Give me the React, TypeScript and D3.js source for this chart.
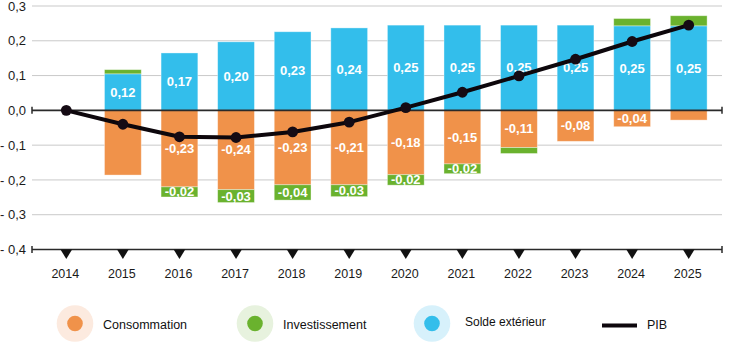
import React from "react";
import * as d3 from "d3";

const years = ["2014","2015","2016","2017","2018","2019","2020","2021","2022","2023","2024","2025"];
const solde = [0, 0.105, 0.165, 0.197, 0.226, 0.237, 0.245, 0.245, 0.245, 0.245, 0.243, 0.243];
const consommation = [0, -0.186, -0.22, -0.228, -0.214, -0.214, -0.185, -0.154, -0.107, -0.089, -0.047, -0.028];
const investPos = [0, 0.012, 0, 0, 0, 0, 0, 0, 0, 0, 0.021, 0.029];
const investNeg = [0, 0, -0.029, -0.037, -0.044, -0.034, -0.03, -0.028, -0.017, 0, 0, 0];
const pib = [0, -0.04, -0.076, -0.078, -0.062, -0.034, 0.008, 0.052, 0.099, 0.147, 0.198, 0.245];

const soldeLabels = [null, "0,12", "0,17", "0,20", "0,23", "0,24", "0,25", "0,25", "0,25", "0,25", "0,25", "0,25"];
const consoLabels = [null, null, "-0,23", "-0,24", "-0,23", "-0,21", "-0,18", "-0,15", "-0,11", "-0,08", "-0,04", null];
const investLabels = [null, null, "-0,02", "-0,03", "-0,04", "-0,03", "-0,02", "-0,02", null, null, null, null];

const yTicks = [0.3, 0.2, 0.1, 0, -0.1, -0.2, -0.3, -0.4];
const yTickLabels = ["0,3", "0,2", "0,1", "0,0", "- 0,1", "- 0,2", "- 0,3", "- 0,4"];

const legendItems = [
  { name: "Consommation", color: "#F0924A", pale: "#FCEADF" },
  { name: "Investissement", color: "#6AB22E", pale: "#E7F2DE" },
  { name: "Solde extérieur", color: "#33BEEB", pale: "#D7F1FB" },
];

const C_ORANGE = "#F0924A";
const C_GREEN = "#6AB22E";
const C_BLUE = "#33BEEB";
const FONT = "'Liberation Sans', Arial, Helvetica, sans-serif";

export default function App() {
  const W = 729, H = 342;
  const x = d3.scaleBand<string>().domain(years).range([38, 717]).paddingInner(0.35).paddingOuter(0.175);
  const y = d3.scaleLinear().domain([-0.4, 0.3]).range([249.5, 6]);
  const bw = x.bandwidth();
  const cx = (yr: string) => (x(yr) as number) + bw / 2;
  const y0 = y(0);

  const line = d3.line<number>().x((_, i) => cx(years[i])).y((d) => y(d));

  const seg = (yr: string, a: number, b: number, color: string, key: string) => {
    if (Math.abs(b - a) < 1e-9) return null;
    const top = Math.min(y(a), y(b));
    const h = Math.abs(y(a) - y(b));
    return <rect key={key} x={x(yr)} y={top} width={bw} height={h} fill={color} stroke="#fff" strokeOpacity={0.45} strokeWidth={0.8} />;
  };

  const label = (yr: string, a: number, b: number, text: string | null, key: string) => {
    if (!text) return null;
    return (
      <text key={key} x={cx(yr)} y={(y(a) + y(b)) / 2 + 1} textAnchor="middle" dominantBaseline="middle"
        fill="#fff" fontWeight="bold" fontSize={13} fontFamily={FONT}>{text}</text>
    );
  };

  const legendX = [75, 255, 432];

  return (
    <div style={{ position: "fixed", left: 0, top: 0 }}>
      <svg width={W} height={H} style={{ display: "block", background: "#fff" }}>
        {/* grid */}
        {yTicks.map((t, i) => (
          t === 0 || t === -0.4 ? null :
          <line key={"g" + i} x1={32} x2={722} y1={y(t)} y2={y(t)} stroke="#c9c9c9" strokeWidth={1} />
        ))}
        {/* y labels */}
        {yTicks.map((t, i) => (
          <text key={"yl" + i} x={26} y={y(t) + 4.6} textAnchor="end" fontSize={13}
            fontFamily={FONT} fill="#1a1a1a">{yTickLabels[i]}</text>
        ))}
        {/* bars */}
        {years.map((yr, i) => (
          <g key={"b" + yr}>
            {seg(yr, 0, solde[i], C_BLUE, "s")}
            {seg(yr, solde[i], solde[i] + investPos[i], C_GREEN, "ip")}
            {seg(yr, 0, consommation[i], C_ORANGE, "c")}
            {seg(yr, consommation[i], consommation[i] + investNeg[i], C_GREEN, "in")}
          </g>
        ))}
        {/* labels */}
        {years.map((yr, i) => (
          <g key={"l" + yr}>
            {label(yr, 0, solde[i], soldeLabels[i], "sl")}
            {label(yr, 0, consommation[i], consoLabels[i], "cl")}
            {label(yr, consommation[i], consommation[i] + investNeg[i], investLabels[i], "il")}
          </g>
        ))}
        {/* zero line */}
        <line x1={32} x2={722} y1={y0} y2={y0} stroke="#2a2a2a" strokeWidth={1.8} />
        <line x1={32} x2={32} y1={y0 - 3.5} y2={y0 + 3.5} stroke="#2a2a2a" strokeWidth={1.5} />
        <line x1={722} x2={722} y1={y0 - 3.5} y2={y0 + 3.5} stroke="#2a2a2a" strokeWidth={1.5} />
        {/* bottom axis */}
        <line x1={32} x2={722} y1={y(-0.4)} y2={y(-0.4)} stroke="#2a2a2a" strokeWidth={1.5} />
        <line x1={32} x2={32} y1={y(-0.4) - 3.5} y2={y(-0.4) + 3.5} stroke="#2a2a2a" strokeWidth={1.5} />
        <line x1={722} x2={722} y1={y(-0.4) - 3.5} y2={y(-0.4) + 3.5} stroke="#2a2a2a" strokeWidth={1.5} />
        {years.map((yr) => {
          const c = cx(yr), b = y(-0.4);
          return <path key={"t" + yr} d={`M${c - 5.8},${b} L${c + 5.8},${b} L${c},${b + 9.5} Z`} fill="#111" />;
        })}
        {years.map((yr) => (
          <text key={"x" + yr} x={cx(yr) - 1} y={278} textAnchor="middle" fontSize={12.5} fontFamily={FONT} fill="#1a1a1a">{yr}</text>
        ))}
        {/* PIB line */}
        <path d={line(pib) || ""} fill="none" stroke="#0d070c" strokeWidth={4} strokeLinejoin="round" />
        {pib.map((v, i) => (
          <circle key={"p" + i} cx={cx(years[i])} cy={y(v)} r={5.4} fill="#150b14" />
        ))}
        {/* legend */}
        {legendItems.map((it, i) => (
          <g key={"lg" + i}>
            <circle cx={legendX[i]} cy={323.5} r={18.3} fill={it.pale} />
            <circle cx={legendX[i]} cy={323.5} r={7.8} fill={it.color} />
          </g>
        ))}
        <text x={103} y={328.5} fontSize={12.5} fontFamily={FONT} fill="#111">Consommation</text>
        <text x={283} y={328.5} fontSize={12.5} fontFamily={FONT} fill="#111">Investissement</text>
        <text x={465} y={325.5} fontSize={12} fontFamily={FONT} fill="#111">Solde extérieur</text>
        <line x1={602} x2={637} y1={325.5} y2={325.5} stroke="#0d070c" strokeWidth={4} />
        <text x={647} y={329} fontSize={12.5} fontFamily={FONT} fill="#111">PIB</text>
      </svg>
    </div>
  );
}
